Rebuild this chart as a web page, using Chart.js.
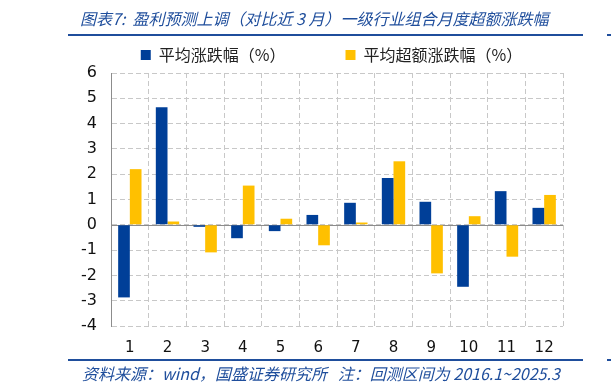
<!DOCTYPE html>
<html><head><meta charset="utf-8">
<script src="https://cdn.jsdelivr.net/npm/chart.js@4/dist/chart.umd.min.js"></script>
<style>
html,body{margin:0;padding:0;background:#fff;}
#wrap{position:relative;width:611px;height:392px;overflow:hidden;}
#c{position:absolute;left:0;top:0;}
.t{position:absolute;white-space:nowrap;font-family:"Noto Sans CJK SC","Noto Sans",sans-serif;font-style:italic;color:#1f4e9c;}
.ln{position:absolute;background:#1f4e9c;height:2px;}
</style></head>
<body><div id="wrap">
<canvas id="c" width="611" height="392"></canvas>
<div class="t" id="title" style="left:80px;top:6px;font-size:16px;">图表7:&nbsp; 盈利预测上调（对比近 3 月）一级行业组合月度超额涨跌幅</div>
<div class="ln" style="left:68px;top:34px;width:515px;"></div>
<div class="ln" style="left:607px;top:34px;width:4px;"></div>
<div class="ln" style="left:68px;top:359px;width:515px;"></div>
<div class="ln" style="left:607px;top:359px;width:4px;"></div>
<div class="t" id="src" style="left:82px;top:361px;font-size:16px;">资料来源：wind，国盛证券研究所&nbsp;&nbsp; 注：回测区间为 2016.1~2025.3</div>
</div>
<script>
const categories = ['1','2','3','4','5','6','7','8','9','10','11','12'];
const seriesNames = ['平均涨跌幅（%）','平均超额涨跌幅（%）'];
const avgReturn = [-2.87, 4.65, -0.08, -0.53, -0.25, 0.39, 0.87, 1.85, 0.91, -2.45, 1.33, 0.67];
const avgExcess = [2.20, 0.13, -1.09, 1.55, 0.24, -0.81, 0.09, 2.51, -1.92, 0.34, -1.26, 1.18];
const yTicks = [-4,-3,-2,-1,0,1,2,3,4,5,6];

const zeroLine = {
  id:'zeroLine',
  beforeDatasetsDraw(chart){
    const {ctx, chartArea:a, scales:{y}} = chart;
    const py = Math.round(y.getPixelForValue(0))+0.5;
    ctx.save();
    ctx.strokeStyle='#8c8c8c';ctx.lineWidth=1;ctx.setLineDash([]);
    ctx.beginPath();ctx.moveTo(a.left,py);ctx.lineTo(a.right,py);ctx.stroke();
    ctx.restore();
  }
};
const legendShift = {
  id:'legendShift',
  afterLayout(chart){ const l=chart.legend; if(l){ l.left+=50; l.right+=50; } }
};

new Chart(document.getElementById('c'), {
  type:'bar',
  data:{labels:categories,datasets:[
    {label:seriesNames[0],data:avgReturn,backgroundColor:'#003f98',borderWidth:0},
    {label:seriesNames[1],data:avgExcess,backgroundColor:'#ffc000',borderWidth:0}
  ]},
  options:{
    responsive:false,animation:false,
    layout:{padding:{top:-13,right:48,bottom:33,left:0}},
    datasets:{bar:{categoryPercentage:0.62,barPercentage:1.0}},
    plugins:{
      legend:{display:true,position:'top',
        labels:{boxWidth:10,boxHeight:10,padding:60,color:'#222',
          font:{family:'"Noto Sans CJK SC", sans-serif',size:16}}},
      tooltip:{enabled:false}
    },
    scales:{
      x:{offset:true,
        grid:{offset:true,color:'#c8c8c8',lineWidth:1,drawTicks:false},
        border:{display:false,dash:[5,3]},
        ticks:{color:'#111',padding:13,font:{family:'"DejaVu Sans", sans-serif',size:15}},
        afterFit(s){s.height=33;}
      },
      y:{min:-4,max:6,
        afterBuildTicks(s){s.ticks=yTicks.map(v=>({value:v}));},
        grid:{color:'#c8c8c8',lineWidth:1,drawTicks:false},
        border:{display:true,color:'#8c8c8c',width:1,dash:[5,3]},
        ticks:{color:'#111',padding:14,autoSkip:false,font:{family:'"DejaVu Sans", sans-serif',size:16}},
        afterFit(s){s.width=111;}
      }
    }
  },
  plugins:[zeroLine, legendShift]
});
</script>
</body></html>
